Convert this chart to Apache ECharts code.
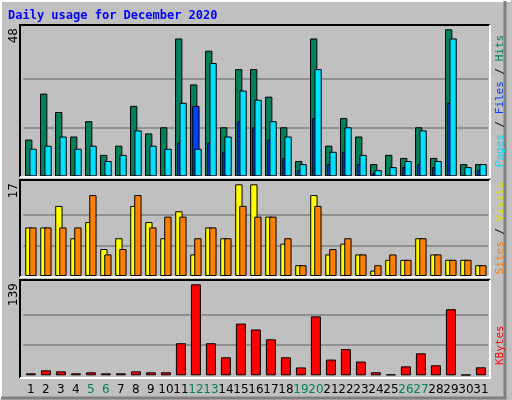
<!DOCTYPE html>
<html><head><meta charset="utf-8">
<script src="https://cdn.jsdelivr.net/npm/echarts@6/dist/echarts.min.js"></script>
<style>html,body{margin:0;padding:0;background:#c0c0c0}#c{width:512px;height:400px}</style>
</head><body><div id="c"></div>
<script>
const days = ['1','2','3','4','5','6','7','8','9','10','11','12','13','14','15','16','17','18','19','20','21','22','23','24','25','26','27','28','29','30','31'];
const weekend = ['5','6','12','13','19','20','26','27'];
const hits  = [12,27,21,13,18,7,10,23,14,16,45,30,41,16,35,35,26,16,5,45,10,19,13,4,7,6,16,6,48,4,4];
const files = [9,10,13,9,10,5,7,15,10,9,24,9,37,13,28,25,18,13,4,35,8,16,7,2,3,5,15,5,45,3,4];
const pages = [0,0,0,0,0,0,0,0,0,0,11,23,11,8,18,16,12,6,2,19,4,8,4,1,0,3,4,3,24,0,2];
const visits = [9,9,13,7,10,5,7,13,10,7,12,4,9,7,17,17,11,6,2,15,4,6,4,1,3,3,7,4,3,3,2];
const sites  = [9,9,9,9,15,4,5,15,9,11,11,7,9,7,13,11,11,7,2,13,5,7,4,2,4,3,7,4,3,3,2];
const kbytes = [3,7.6,6,3,4.6,3,3,6,4.6,4.6,49,139,49,27.5,79,70,55,27.5,12,90,24,40,21,4.6,1.5,13.7,33.6,15.3,101,1,12.2];
const maxLabels = ['48','17','139'];

const chart = echarts.init(document.getElementById('c'));
const mono = 'DejaVu Sans Mono';
const panels = [[20,25,470,152],[20,180,470,97],[20,280,470,98]];
const bs = {borderColor:'#000',borderWidth:1};
const graphic = [
  {type:'rect',shape:{x:0,y:0,width:512,height:400},style:{fill:'#c0c0c0'},z:-10},
  {type:'polyline',shape:{points:[[1,399],[1,1],[511,1]]},style:{stroke:'#fff',lineWidth:2,fill:null},z:-9},
  {type:'polyline',shape:{points:[[1,398],[505,398],[505,1]]},style:{stroke:'#808080',lineWidth:3,fill:null},z:-9},
  {type:'text',x:8,y:16,style:{text:'Daily usage for December 2020',fill:'#0000ff',font:'bold 12px '+mono,textVerticalAlign:'middle'},z:100}
];
panels.forEach((p,i)=>{
  graphic.push({type:'rect',shape:{x:p[0],y:p[1],width:p[2],height:p[3]},style:{fill:'#c0c0c0',stroke:null},z:-5});
  graphic.push({type:'polyline',shape:{points:[[p[0],p[1]+p[3]],[p[0],p[1]],[p[0]+p[2],p[1]]]},style:{stroke:'#000',lineWidth:2,fill:null},z:50});
  graphic.push({type:'polyline',shape:{points:[[p[0],p[1]+p[3]],[p[0]+p[2],p[1]+p[3]],[p[0]+p[2],p[1]]]},style:{stroke:'#fff',lineWidth:2,fill:null},z:50});
  graphic.push({type:'text',x:14,y:p[1]+3,rotation:Math.PI/2,style:{text:maxLabels[i],fill:'#000',font:'12px DejaVu Sans',textAlign:'right',textVerticalAlign:'middle'},z:100});
});
const rf = '11px '+mono;
graphic.push({type:'text',x:500,y:101,rotation:Math.PI/2,style:{text:'{p|Pages} / {f|Files} / {h|Hits}',fill:'#000',font:rf,textAlign:'center',textVerticalAlign:'middle',rich:{p:{fill:'#00e0ff',font:rf},f:{fill:'#0040ff',font:rf},h:{fill:'#00805c',font:rf}}},z:100});
graphic.push({type:'text',x:500,y:228,rotation:Math.PI/2,style:{text:'{s|Sites} / {v|Visits}',fill:'#000',font:rf,textAlign:'center',textVerticalAlign:'middle',rich:{s:{fill:'#ff8000',font:rf},v:{fill:'#e0e000',font:rf}}},z:100});
graphic.push({type:'text',x:500,y:365,rotation:Math.PI/2,style:{text:'KBytes',fill:'#ff0000',font:rf,textAlign:'left',textVerticalAlign:'middle'},z:100});

const grids = [
  {left:23.4,width:465,top:29.3,height:147},
  {left:23.4,width:465,top:184.3,height:91.7},
  {left:23.4,width:465,top:284.3,height:91}
];
const maxes = [48,17,139];
const xAxis = grids.map((g,i)=>({type:'category',gridIndex:i,data:days,axisLine:{show:false},axisTick:{show:false},
  axisLabel:{show:i===2,margin:9,fontSize:12,fontFamily:'DejaVu Sans',interval:0,
    formatter:v=>weekend.includes(v)?'{w|'+v+'}':v,color:'#000',rich:{w:{color:'#00805c',fontSize:12,fontFamily:'DejaVu Sans'}}}}));
const yAxis = maxes.map((m,i)=>({type:'value',gridIndex:i,min:0,max:m,interval:m/3,axisLine:{show:false},axisTick:{show:false},axisLabel:{show:false},
  splitLine:{show:true,lineStyle:{color:['transparent','#808080','#808080','transparent'],width:1.5}}}));
chart.setOption({
  animation:false,
  graphic, grid:grids, xAxis, yAxis,
  series:[
    {type:'bar',name:'Hits',data:hits,xAxisIndex:0,yAxisIndex:0,barWidth:7.3,barGap:'-70%',itemStyle:{color:'#00805c',...bs}},
    {type:'bar',name:'Pages',data:pages,xAxisIndex:0,yAxisIndex:0,barWidth:7.3,barGap:'-70%',itemStyle:{color:'#0040ff',...bs}},
    {type:'bar',name:'Files',data:files,xAxisIndex:0,yAxisIndex:0,barWidth:7.3,barGap:'-70%',itemStyle:{color:'#00e0ff',...bs}},
    {type:'bar',name:'Visits',data:visits,xAxisIndex:1,yAxisIndex:1,barWidth:7.3,barGap:'-45%',itemStyle:{color:'#ffff00',...bs}},
    {type:'bar',name:'Sites',data:sites,xAxisIndex:1,yAxisIndex:1,barWidth:7.3,barGap:'-45%',itemStyle:{color:'#ff8000',...bs}},
    {type:'bar',name:'KBytes',data:kbytes,xAxisIndex:2,yAxisIndex:2,barWidth:10,itemStyle:{color:'#ff0000',...bs}}
  ]
});
</script></body></html>
